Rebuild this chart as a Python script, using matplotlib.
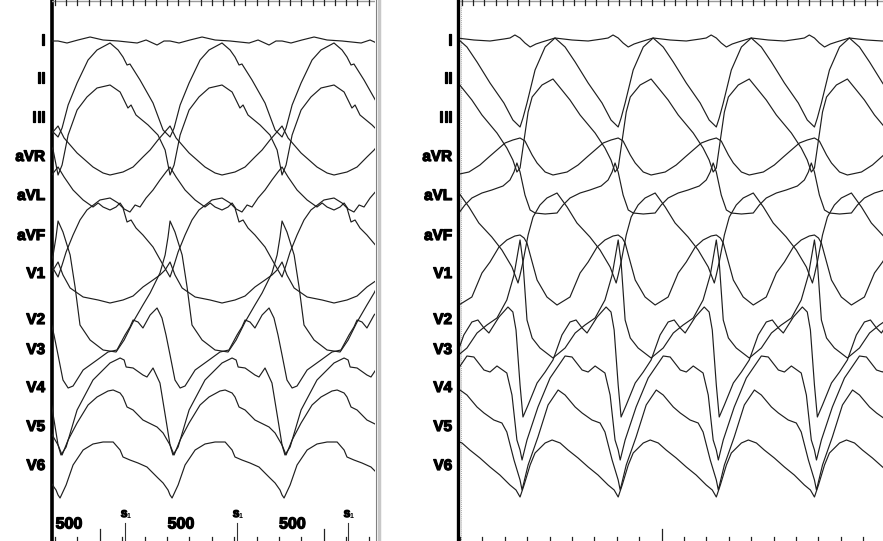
import numpy as np
import matplotlib
matplotlib.use("Agg")
from matplotlib import pyplot as plt
import matplotlib.patheffects as pe

W, H = 883, 541
MS_PER_PX = 500 / 112.0

leads = ["I", "II", "III", "aVR", "aVL", "aVF", "V1", "V2", "V3", "V4", "V5", "V6"]

# ---- left recording: paced, S1 = 500 ms ----
left_cl = 500
left_first_qrs = 27          # ms from start of window
left_window = 1442
left_s1 = [-174, 326, 826, 1321]
left_interval_label = "500"

# one beat per lead: (ms from QRS, amplitude)
left_beats = {
    "I":   ([0, 40, 89, 143, 201, 268, 353, 393, 442, 473, 500],
            [0, -2, 1, 4, 1, 0, -2, 1, -4, 0, 0]),
    "II":  ([0, 18, 45, 85, 134, 174, 232, 268, 290, 308, 321, 366, 424, 469, 500],
            [-58, -49, -26, -4, 19, 29, 36, 29, 22, 14, 15, -1, -24, -51, -58]),
    "III": ([0, 18, 45, 85, 129, 174, 232, 277, 299, 312, 326, 348, 402, 446, 478, 500],
            [-57, -47, -17, 8, 21, 30, 33, 26, 16, 10, 13, 3, -7, -17, -32, -57]),
    "aVR": ([0, 27, 85, 156, 201, 232, 290, 335, 379, 411, 446, 473, 500],
            [31, 19, 4, -10, -16, -18, -15, -10, 0, 7, 17, 24, 31]),
    "aVL": ([0, 27, 67, 112, 156, 179, 201, 232, 259, 277, 295, 321, 344, 366, 393, 424, 455, 482, 500],
            [29, 19, 6, -4, -11, -7, -11, -14, -11, -7, -13, -16, -9, -11, -2, 6, 16, 24, 29]),
    "aVF": ([0, 18, 36, 67, 98, 129, 187, 232, 268, 290, 308, 326, 348, 379, 424, 469, 500],
            [-41, -29, -16, 1, 16, 26, 36, 38, 33, 28, 14, 16, 8, 1, -11, -29, -41]),
    "V1":  ([0, 22, 54, 112, 179, 232, 290, 335, 379, 424, 455, 478, 500],
            [12, -1, -14, -23, -26, -29, -26, -22, -13, -6, -1, 4, 12]),
    "V2":  ([0, 22, 54, 76, 98, 143, 201, 259, 295, 335, 379, 411, 455, 478, 491, 500],
            [99, 88, 65, 33, -5, -20, -30, -32, -20, -2, 15, 27, 47, 65, 83, 99]),
    "V3":  ([0, 22, 45, 67, 112, 174, 223, 263, 299, 321, 335, 357, 379, 411, 442, 464, 482, 500],
            [-5, -30, -38, -36, -20, -10, -2, 0, 15, 23, 30, 28, 22, 35, 42, 32, 15, -5]),
    "V4":  ([0, 13, 36, 85, 156, 232, 277, 295, 304, 335, 379, 397, 424, 455, 482, 500],
            [-57, -67, -59, -22, 8, 25, 30, 28, 21, 20, 13, 11, 20, 5, -32, -57]),
    "V5":  ([0, 18, 45, 85, 134, 174, 223, 246, 277, 290, 308, 335, 379, 442, 469, 487, 500],
            [-18, -28, -13, 4, 22, 30, 36, 37, 34, 30, 20, 17, 7, 0, -6, -13, -18]),
    "V6":  ([0, 9, 36, 67, 112, 156, 201, 246, 277, 290, 321, 357, 397, 446, 469, 491, 500],
            [-29, -32, -19, 1, 16, 22, 24, 24, 16, 9, 6, 3, -1, -12, -17, -24, -29]),
}

# ---- right recording: spontaneous rhythm, CL ~438 ms ----
right_cl = 438
right_first_qrs = 268
right_window = 1888

right_beats = {
    "I":   ([0, 22, 45, 71, 98, 156, 232, 304, 366, 393, 415, 438],
            [3, -2, -6, -3, -1, 3, 1, 0, 2, 3, 6, 3]),
    "II":  ([0, 13, 31, 67, 112, 156, 201, 246, 304, 366, 406, 438],
            [-48, -39, -24, 9, 32, 41, 32, 17, -4, -24, -41, -48]),
    "III": ([0, 18, 36, 54, 98, 147, 187, 223, 268, 335, 379, 406, 424, 438],
            [-50, -22, 6, 21, 33, 39, 28, 18, 3, -15, -30, -42, -54, -50]),
    "aVR": ([0, 22, 54, 76, 112, 147, 210, 259, 299, 335, 371, 406, 438],
            [19, 16, 2, -6, -15, -18, -15, -8, 0, 7, 14, 17, 19]),
    "aVL": ([0, 22, 45, 67, 112, 165, 192, 223, 268, 312, 362, 393, 411, 424, 438],
            [24, 1, -14, -17, -18, -17, -9, -2, 3, 6, 10, 16, 24, 33, 24]),
    "aVF": ([0, 13, 36, 58, 89, 120, 165, 210, 254, 312, 357, 402, 429, 438],
            [-39, -26, 1, 19, 31, 38, 43, 29, 13, -1, -14, -31, -47, -39]),
    "V1":  ([0, 18, 31, 54, 76, 120, 165, 223, 268, 304, 344, 379, 415, 438],
            [39, 36, 31, 12, -6, -23, -31, -23, 1, 12, 27, 34, 38, 39]),
    "V2":  ([0, 13, 31, 54, 89, 147, 201, 246, 290, 335, 379, 411, 438],
            [80, 58, 0, -18, -28, -38, -28, -13, -5, 2, 20, 45, 80]),
    "V3":  ([0, 13, 36, 76, 112, 147, 187, 223, 250, 277, 299, 344, 384, 406, 420, 438],
            [-35, -67, -55, -33, -22, -10, 15, 28, 30, 22, 17, 33, 43, 38, 20, -35]),
    "V4":  ([0, 9, 31, 80, 134, 201, 232, 277, 304, 335, 379, 402, 424, 438],
            [-62, -72, -52, -19, 10, 32, 31, 18, 16, 22, 15, -7, -52, -62]),
    "V5":  ([0, 9, 36, 80, 125, 170, 201, 246, 277, 321, 357, 379, 411, 438],
            [-53, -63, -38, -10, 22, 37, 32, 20, 14, 7, 4, -5, -33, -53]),
    "V6":  ([0, 18, 45, 67, 112, 143, 179, 214, 259, 304, 348, 393, 420, 438],
            [-31, -19, 1, 13, 23, 26, 23, 16, 8, -1, -9, -19, -24, -31]),
}

# vertical position of each lead's baseline (pixels from the top)
lead_rows = [41, 79, 118, 157, 196, 236, 274, 320, 350, 388, 427, 466]

TRACE = "#1e1e1e"
FAM = ["Liberation Sans", "DejaVu Sans"]
HEAVY = [pe.withStroke(linewidth=0.9, foreground="black")]


def draw_traces(ax, beats, first_qrs, cl, window):
    for lead, row in zip(leads, lead_rows):
        t_b, a_b = beats[lead]
        t_b = np.array(t_b, dtype=float)
        a_b = np.array(a_b, dtype=float)
        ts, ys = [], []
        k = -1
        while first_qrs + k * cl < window + cl:
            ts.append(first_qrs + k * cl + t_b[:-1])
            ys.append(row - a_b[:-1])
            k += 1
        ax.plot(np.concatenate(ts), np.concatenate(ys), color=TRACE, lw=0.85,
                solid_joinstyle="round")


def draw_ruler(ax, top_start, bottom_start, window, tall_at):
    ax.plot([0, window], [0.5, 0.5], color="#9a9a9a", lw=1.0)
    for t in np.arange(top_start, window, 50):
        ax.plot([t, t], [0, 4.5], color="#222222", lw=0.9)
    for t in np.arange(bottom_start, window, 100):
        tall = (t - tall_at) % 1000 == 0
        ax.plot([t, t], [H - (12 if tall else 4), H], color="#222222", lw=0.9)


fig = plt.figure(figsize=(W / 100, H / 100), dpi=100)
fig.patch.set_facecolor("white")

# frame / labels layer in pixel coordinates
over = fig.add_axes([0, 0, 1, 1])
over.set_xlim(0, W)
over.set_ylim(H, 0)
over.axis("off")

for lead, row in zip(leads, lead_rows):
    for xr in (45, 452):
        over.text(xr, row, lead, ha="right", va="center", family=FAM,
                  weight="bold", size=11, path_effects=HEAVY)

over.plot([51.5, 51.5], [0, H], color="black", lw=2.6)
over.plot([375.5, 375.5], [0, H], color="#808080", lw=0.8)
over.plot([379, 379], [0, H], color="#c8c8c8", lw=2.5)
over.plot([458, 458], [0, H], color="black", lw=2.4)
over.plot([460.5, 460.5], [0, H], color="#aaaaaa", lw=0.7, ls=(0, (1, 1)))

# left panel
axl = fig.add_axes([52 / W, 0, (375 - 52) / W, 1])
axl.set_xlim(0, left_window)
axl.set_ylim(H, 0)
axl.axis("off")
axl.patch.set_alpha(0)
draw_traces(axl, left_beats, left_first_qrs, left_cl, left_window)
draw_ruler(axl, 13, 13, left_window, 213)

for s in left_s1:
    if 0 <= s <= left_window:
        axl.plot([s, s], [523, H], color="#333333", lw=0.8)
        axl.text(s - 4, 514, "S", ha="center", va="center", family=FAM,
                 weight="bold", size=7, path_effects=HEAVY)
        axl.text(s + 14, 516, "1", ha="center", va="center", family=FAM,
                 weight="bold", size=5)
for a, b in zip(left_s1[:-1], left_s1[1:]):
    axl.text((a + b) / 2, 524, left_interval_label, ha="center", va="center",
             family=FAM, weight="bold", size=11.5, path_effects=HEAVY)

# right panel
axr = fig.add_axes([460 / W, 0, (W - 460) / W, 1])
axr.set_xlim(0, right_window)
axr.set_ylim(H, 0)
axr.axis("off")
axr.patch.set_alpha(0)
draw_traces(axr, right_beats, right_first_qrs, right_cl, right_window)
draw_ruler(axr, 9, 0, right_window, 900)

fig.savefig("out.png", dpi=100, facecolor="white")
